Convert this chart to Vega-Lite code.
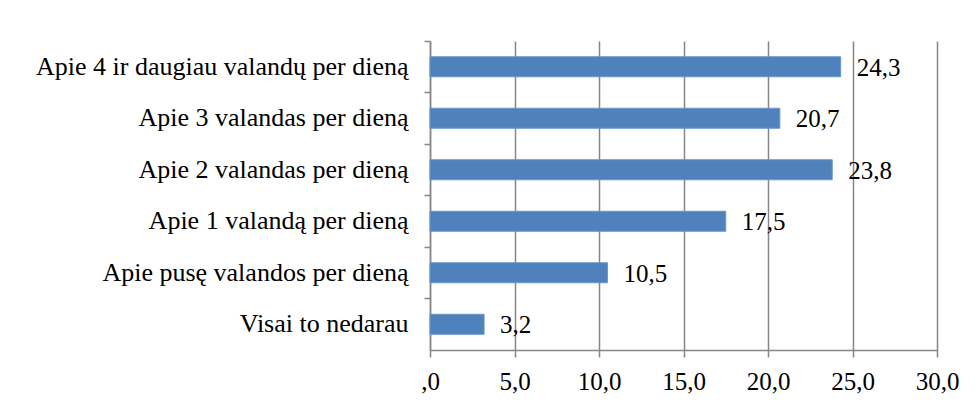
{
  "$schema": "https://vega.github.io/schema/vega-lite/v6.json",
  "width": 507,
  "height": 309,
  "autosize": {"type": "none"},
  "padding": {"left": 430, "top": 41, "right": 42, "bottom": 55},
  "background": "white",
  "data": {
    "values": [
      {"category": "Apie 4 ir daugiau valandų per dieną", "value": 24.3},
      {"category": "Apie 3 valandas per dieną", "value": 20.7},
      {"category": "Apie 2 valandas per dieną", "value": 23.8},
      {"category": "Apie 1 valandą per dieną", "value": 17.5},
      {"category": "Apie pusę valandos per dieną", "value": 10.5},
      {"category": "Visai to nedarau", "value": 3.2}
    ]
  },
  "config": {
    "view": {"stroke": null},
    "locale": {"number": {"decimal": ",", "thousands": " ", "grouping": [3], "currency": ["", ""]}},
    "font": "Liberation Serif"
  },
  "encoding": {
    "y": {
      "field": "category",
      "type": "nominal",
      "sort": null,
      "title": null,
      "scale": {"paddingInner": 0, "paddingOuter": 0},
      "axis": {
        "bandPosition": 0,
        "domainColor": "#868686",
        "domainWidth": 1.5,
        "tickColor": "#868686",
        "tickWidth": 1.5,
        "tickSize": 6,
        "labelFont": "Liberation Serif",
        "labelFontSize": 26,
        "labelColor": "black",
        "labelPadding": 16,
        "labelLimit": 500,
        "grid": false
      }
    },
    "x": {
      "field": "value",
      "type": "quantitative",
      "title": null,
      "scale": {"domain": [0, 30], "nice": false},
      "axis": {
        "values": [0, 5, 10, 15, 20, 25, 30],
        "labelExpr": "datum.value == 0 ? ',0' : replace(format(datum.value, '.1f'), '.', ',')",
        "domainColor": "#868686",
        "domainWidth": 1.5,
        "tickColor": "#868686",
        "tickWidth": 1.5,
        "tickSize": 7,
        "grid": true,
        "gridColor": "#868686",
        "gridWidth": 1.5,
        "labelFont": "Liberation Serif",
        "labelFontSize": 25,
        "labelColor": "black",
        "labelPadding": 12,
        "labelFlush": false
      }
    }
  },
  "layer": [
    {
      "mark": {"type": "bar", "size": 20, "color": "#4F81BD", "stroke": "#6A95CC", "strokeWidth": 1}
    },
    {
      "mark": {"type": "text", "align": "left", "baseline": "middle", "dx": 16, "dy": 1, "fontSize": 25, "font": "Liberation Serif", "color": "black"},
      "encoding": {
        "text": {"field": "value", "type": "quantitative", "format": ".1f"}
      }
    }
  ]
}
